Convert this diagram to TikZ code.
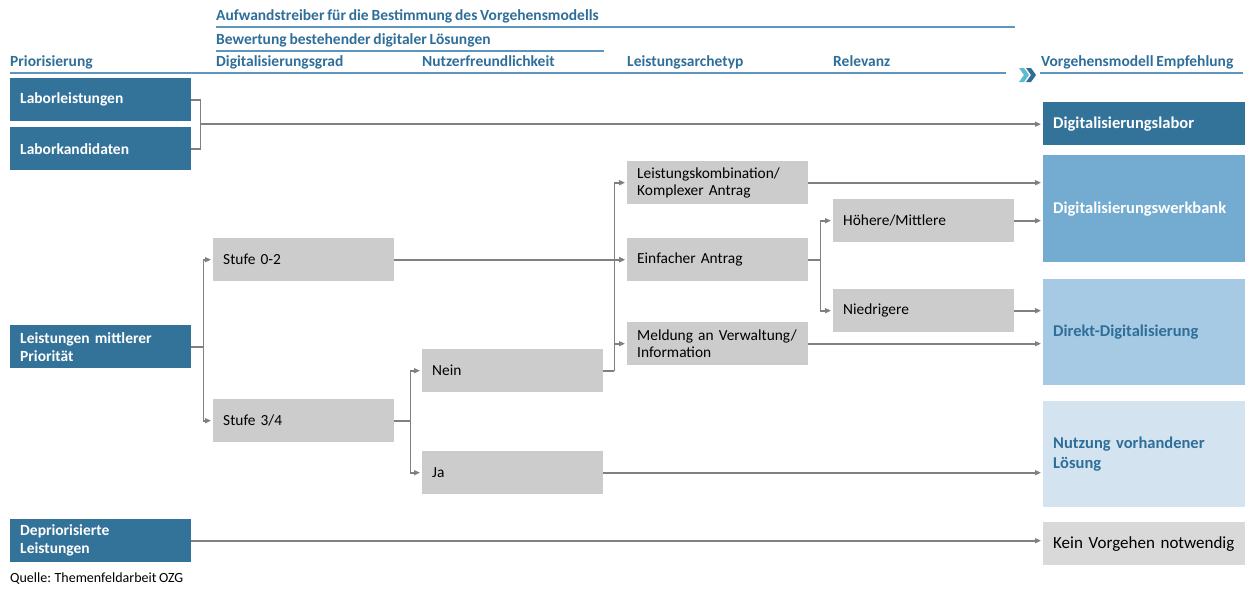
\documentclass[tikz,border=0pt]{standalone}
\usepackage{fontspec}
\setmainfont[WordSpace=0.8]{Carlito}
\usetikzlibrary{arrows.meta,calc}
\definecolor{dblue}{RGB}{51,114,153}
\definecolor{mblue}{RGB}{116,171,208}
\definecolor{lblue}{RGB}{166,202,227}
\definecolor{llblue}{RGB}{211,228,240}
\definecolor{kgray}{RGB}{217,217,217}
\definecolor{bgray}{RGB}{204,204,204}
\definecolor{cgray}{RGB}{128,128,128}
\definecolor{htext}{RGB}{46,110,153}
\definecolor{hline}{RGB}{94,149,188}
\definecolor{tealc}{RGB}{91,188,203}
\tikzset{
  box/.style={anchor=north west, inner xsep=10pt, inner ysep=0pt, minimum height=43pt, align=left, font=\fontsize{15.4}{17}\selectfont},
  lbox/.style={box, fill=dblue, text=white, text width=161pt, font=\bfseries\fontsize{15.5}{18}\selectfont},
  gbox/.style={box, fill=bgray, text=black, text width=161pt},
  rbox/.style={box, text width=182pt, font=\fontsize{17}{20}\selectfont},
  rboxb/.style={rbox, font=\bfseries\fontsize{16.5}{20}\selectfont},
  head/.style={anchor=base west, inner sep=0pt, text=htext, font=\bfseries\fontsize{15.5}{17}\selectfont},
  hl/.style={draw=hline, line width=1.3pt},
  conn/.style={draw=cgray, line width=1.8pt},
  arr/.style={conn, -{Triangle[length=6pt,width=5pt]}, shorten >=2pt},
}
\begin{document}
\begin{tikzpicture}[x=1pt,y=-1pt]
\useasboundingbox (0,0) rectangle (1248,589);
% headers
\node[head] (h1) at (216,20) {Aufwandstreiber für die Bestimmung des Vorgehensmodells};
\draw[hl] (216,27) -- (1015,27);
\node[head] (h2) at (216,44) {Bewertung bestehender digitaler Lösungen};
\draw[hl] (216,51) -- (604,51);
\node[head] (h3) at (10,66) {Priorisierung};
\node[head] (h4) at (216,66) {Digitalisierungsgrad};
\node[head] (h5) at (422,66) {Nutzerfreundlichkeit};
\node[head] (h6) at (627,66) {Leistungsarchetyp};
\node[head] (h7) at (833,66) {Relevanz};
\node[head] (h8) at (1041,66) {Vorgehensmodell Empfehlung};
\draw[hl] (10,73) -- (1006,73);
\draw[hl] (1040,73) -- (1243,73);
% chevrons
\fill[tealc] (1019,68) -- (1024,68) -- (1029,75) -- (1024,82) -- (1019,82) -- (1024,75) -- cycle;
\fill[htext] (1026,68) -- (1031,68) -- (1036,75) -- (1031,82) -- (1026,82) -- (1031,75) -- cycle;
% left boxes
\node[lbox] (lab) at (10,78) {Laborleistungen};
\node[lbox] (kand) at (10,127) {Laborkandidaten};
\node[lbox] (mitt) at (10,325) {Leistungen mittlerer\\Priorität};
\node[lbox] (depr) at (10,519) {Depriorisierte\\Leistungen};
% gray boxes
\node[gbox] (s02) at (213,238) {Stufe 0-2};
\node[gbox] (s34) at (213,399) {Stufe 3/4};
\node[gbox] (nein) at (422,349) {Nein};
\node[gbox] (ja) at (422,451) {Ja};
\node[gbox] (komb) at (627,161) {Leistungskombination/\\Komplexer Antrag};
\node[gbox] (einf) at (627,238) {Einfacher Antrag};
\node[gbox] (meld) at (627,322) {Meldung an Verwaltung/\\Information};
\node[gbox] (hoeh) at (833,199) {Höhere/Mittlere};
\node[gbox] (nied) at (833,289) {Niedrigere};
% right boxes
\node[rboxb, fill=dblue, text=white] (dlab) at (1043,102) {Digitalisierungslabor};
\node[rboxb, fill=mblue, text=white, minimum height=107pt] (werk) at (1043,155) {Digitalisierungswerkbank};
\node[rboxb, fill=lblue, text=htext, minimum height=106pt] (direkt) at (1043,279) {Direkt-Digitalisierung};
\node[rboxb, fill=llblue, text=htext, minimum height=106pt] (nutz) at (1043,401) {Nutzung vorhandener\\Lösung};
\node[rbox, fill=kgray, text=black] (kein) at (1043,522) {Kein Vorgehen notwendig};
% source
\node[anchor=base west, inner sep=0pt, font=\fontsize{14}{16}\selectfont] (src) at (10,582) {Quelle: Themenfeldarbeit OZG};
% connectors
\coordinate (j1) at ($(lab.east)!0.5!(kand.east)+(9,0)$);
\draw[conn] (lab.east) -| (j1) |- (kand.east);
\draw[arr] (j1) -- (j1 -| dlab.west);
\coordinate (j2) at ($(mitt.east)+(12,0)$);
\draw[conn] (mitt.east) -- (j2);
\draw[arr] (j2) |- (s02.west);
\draw[arr] (j2) |- (s34.west);
\coordinate (j3) at ($(s34.east)+(16,0)$);
\draw[conn] (s34.east) -- (j3);
\draw[arr] (j3) |- (nein.west);
\draw[arr] (j3) |- (ja.west);
\coordinate (j4) at ($(nein.east)+(11,0)$);
\draw[arr] (s02.east) -- (einf.west);
\draw[conn] (nein.east) -- (j4);
\draw[arr] (j4) |- (komb.west);
\draw[arr] (j4) |- (meld.west);
\draw[arr] (j4 |- einf.west) -- (einf.west);
\coordinate (j5) at ($(einf.east)+(12,0)$);
\draw[conn] (einf.east) -- (j5);
\draw[arr] (j5) |- (hoeh.west);
\draw[arr] (j5) |- (nied.west);
\draw[arr] (komb.east) -- (komb.east -| werk.west);
\draw[arr] (hoeh.east) -- (hoeh.east -| werk.west);
\draw[arr] (nied.east) -- (nied.east -| direkt.west);
\draw[arr] (meld.east) -- (meld.east -| direkt.west);
\draw[arr] (ja.east) -- (ja.east -| nutz.west);
\draw[arr] (depr.east) -- (depr.east -| kein.west);
\end{tikzpicture}
\end{document}
